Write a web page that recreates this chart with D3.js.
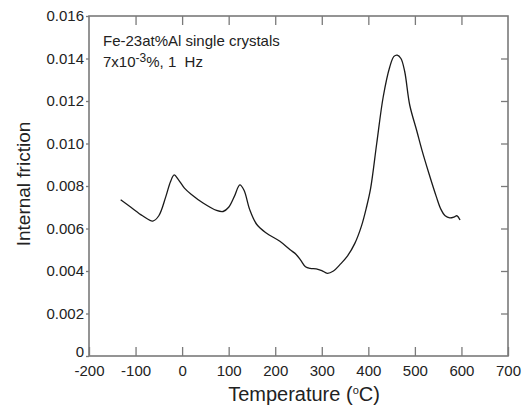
<!DOCTYPE html>
<html>
<head>
<meta charset="utf-8">
<script src="https://cdn.jsdelivr.net/npm/d3@7"></script>
<style>
  body { margin: 0; background: #fff; }
  text { font-family: "Liberation Sans", Arial, sans-serif; fill: #222; }
</style>
</head>
<body>
<div id="chart"></div>
<script>
'use strict';

// Internal friction vs temperature
const temps = [-132, -110, -85, -63, -50, -35, -25, -17, -8, 5, 20, 45, 74, 88, 100, 112, 124, 133, 145, 160,
  180, 210, 232, 245, 255, 265, 275, 288, 300, 312, 325, 339, 355, 371, 385, 396, 405, 418, 432, 446, 455,
  462, 470, 478, 489, 504, 515, 530, 546, 556, 565, 575, 585, 590, 597];
const friction = [0.00735, 0.0070, 0.0066, 0.00635, 0.0066, 0.0075, 0.0082, 0.00852, 0.0083, 0.0079, 0.0076,
  0.0072, 0.00685, 0.0068, 0.0070, 0.0075, 0.00805, 0.0078, 0.0069, 0.0062,
  0.0058, 0.0054, 0.0050, 0.00478, 0.0045, 0.0042, 0.00412, 0.0041, 0.00402, 0.00389, 0.0040, 0.0043, 0.0047,
  0.0053, 0.0061, 0.0070, 0.0079, 0.0100, 0.0122, 0.0136, 0.0141,
  0.01416, 0.0140, 0.0134, 0.0118, 0.0106, 0.0097, 0.0086, 0.0075, 0.0069, 0.0066, 0.0065, 0.00655, 0.0066, 0.0064];

const xTicks = [-200, -100, 0, 100, 200, 300, 400, 500, 600, 700];
const yTicks = [0, 0.002, 0.004, 0.006, 0.008, 0.010, 0.012, 0.014, 0.016];

const width = 529;
const height = 410;
const margin = { top: 16, right: 21, bottom: 54, left: 89 };

const x = d3.scaleLinear([-200, 700], [margin.left, width - margin.right]);
const y = d3.scaleLinear([0, 0.016], [height - margin.bottom, margin.top]);

const svg = d3.select('#chart')
  .append('svg')
  .attr('width', width)
  .attr('height', height);

const axisColor = '#7a7a7a';

const styleAxis = (g) => {
  g.select('.domain').remove();
  g.selectAll('.tick line').attr('stroke', axisColor).attr('stroke-width', 1.3);
  g.selectAll('.tick text').style('font-size', '15px').attr('fill', '#2a2a2a');
};

// bottom
svg.append('g')
  .attr('transform', `translate(0,${height - margin.bottom})`)
  .call(d3.axisBottom(x).tickValues(xTicks).tickFormat((d) => String(d)).tickSizeInner(-9).tickSizeOuter(0).tickPadding(9))
  .call(styleAxis);

// top
svg.append('g')
  .attr('transform', `translate(0,${margin.top})`)
  .call(d3.axisTop(x).tickValues(xTicks.slice(1, -1)).tickFormat('').tickSizeInner(-9).tickSizeOuter(0))
  .call(styleAxis);

// left
svg.append('g')
  .attr('transform', `translate(${margin.left},0)`)
  .call(d3.axisLeft(y).tickValues(yTicks).tickFormat((d) => d === 0 ? '0' : d3.format('.3f')(d)).tickSizeInner(3).tickSizeOuter(0).tickPadding(2))
  .call(styleAxis)
  .call((g) => g.selectAll('.tick text').filter((d) => d === 0).attr('dy', '0.05em'));

// right
svg.append('g')
  .attr('transform', `translate(${width - margin.right},0)`)
  .call(d3.axisRight(y).tickValues(yTicks.slice(1, -1)).tickFormat('').tickSizeInner(-7).tickSizeOuter(0))
  .call(styleAxis);

// frame
svg.append('rect')
  .attr('x', margin.left)
  .attr('y', margin.top)
  .attr('width', width - margin.left - margin.right)
  .attr('height', height - margin.top - margin.bottom)
  .attr('fill', 'none')
  .attr('stroke', axisColor)
  .attr('stroke-width', 1.6);

const points = temps.map((t, i) => [t, friction[i]]);

const line = d3.line()
  .x((d) => x(d[0]))
  .y((d) => y(d[1]))
  .curve(d3.curveCatmullRom.alpha(0.5));

svg.append('path')
  .datum(points)
  .attr('d', line)
  .attr('fill', 'none')
  .attr('stroke', '#1a1a1a')
  .attr('stroke-width', 1.3);

// annotation
svg.append('text')
  .attr('x', 103)
  .attr('y', 46)
  .style('font-size', '15px')
  .text('Fe-23at%Al single crystals');

const note = svg.append('text')
  .attr('x', 103)
  .attr('y', 67)
  .style('font-size', '15px');
note.append('tspan').text('7x10');
note.append('tspan').attr('dy', -5).style('font-size', '12px').text('-3');
note.append('tspan').attr('dy', 5).text('%, 1 \u00a0Hz');

// axis titles
const xTitle = svg.append('text')
  .attr('x', 304)
  .attr('y', 401)
  .attr('text-anchor', 'middle')
  .style('font-size', '20px');
xTitle.append('tspan').text('Temperature (');
xTitle.append('tspan').attr('dy', -7).style('font-size', '11px').text('o');
xTitle.append('tspan').attr('dy', 7).text('C)');

svg.append('text')
  .attr('transform', 'translate(30,184) rotate(-90)')
  .attr('text-anchor', 'middle')
  .style('font-size', '19px')
  .text('Internal friction');
</script>
</body>
</html>
